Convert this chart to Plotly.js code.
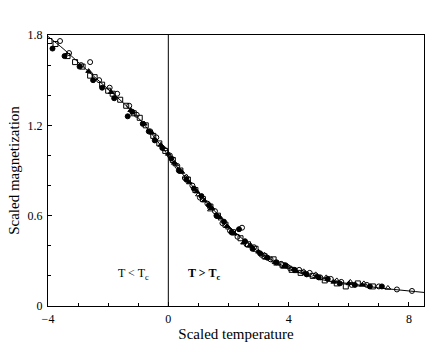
<!DOCTYPE html>
<html>
<head>
<meta charset="utf-8">
<script src="https://cdn.plot.ly/plotly-3.0.1.min.js"></script>
<style>
  body { margin: 0; background: #fff; }
  #graph { width: 436px; height: 352px; }
</style>
</head>
<body>
<div id="graph"></div>
<script>
// scaling curve
var curveX = [-4, -3.5, -3, -2.5, -2, -1.5, -1, -0.5, 0, 0.5, 1, 1.5, 2, 2.5, 3, 3.5, 4, 4.5, 5, 5.5, 6, 6.5, 7, 7.5, 8, 8.5];
var curveY = [1.79, 1.71, 1.62, 1.53, 1.44, 1.35, 1.25, 1.13, 1.00, 0.87, 0.75, 0.64, 0.53, 0.44, 0.36, 0.30, 0.25, 0.21, 0.18, 0.16, 0.15, 0.135, 0.12, 0.11, 0.10, 0.09];

// open squares
var sqX = [-3.95, -3.75, -3.35, -3.1, -2.85, -2.6, -2.45, -2.2, -2.0, -1.85, -1.6, -1.4, -1.15, -0.95, -0.75, -0.5, -0.3, -0.1, 0.15, 0.4, 0.65, 0.9, 1.15, 1.4, 1.65, 1.9, 2.15, 2.4, 2.65, 2.9, 3.2, 3.5, 3.8, 4.1, 4.4, 4.8, 5.2, 5.6, 5.9, 6.3, 6.8];
var sqY = [1.76, 1.74, 1.66, 1.62, 1.59, 1.53, 1.52, 1.47, 1.43, 1.41, 1.37, 1.33, 1.28, 1.25, 1.20, 1.13, 1.08, 1.03, 0.97, 0.90, 0.84, 0.77, 0.71, 0.66, 0.60, 0.54, 0.49, 0.45, 0.41, 0.38, 0.33, 0.31, 0.27, 0.24, 0.22, 0.20, 0.17, 0.15, 0.13, 0.15, 0.13];

// open circles
var ocX = [-3.6, -3.3, -2.9, -2.6, -2.3, -1.95, -1.7, -1.3, -1.05, -0.6, -0.4, 0.05, 0.3, 0.55, 0.8, 1.05, 1.3, 1.55, 1.8, 2.05, 2.3, 2.45, 2.6, 2.85, 3.1, 3.4, 3.75, 4.05, 4.35, 4.7, 5.05, 5.4, 5.75, 6.1, 6.6, 7.0, 7.6, 8.1];
var ocY = [1.76, 1.68, 1.60, 1.62, 1.50, 1.45, 1.41, 1.33, 1.27, 1.16, 1.12, 1.00, 0.93, 0.85, 0.80, 0.72, 0.68, 0.63, 0.55, 0.50, 0.46, 0.52, 0.41, 0.39, 0.34, 0.31, 0.28, 0.25, 0.24, 0.22, 0.19, 0.18, 0.16, 0.14, 0.14, 0.13, 0.11, 0.10];

// filled circles
var fcX = [-3.85, -3.45, -2.95, -2.5, -2.2, -1.8, -1.35, -1.2, -0.85, -0.65, -0.45, -0.2, 0.1, 0.35, 0.6, 0.85, 1.1, 1.35, 1.6, 1.85, 2.1, 2.35, 2.55, 2.8, 3.05, 3.3, 3.6, 3.9, 4.2, 4.6, 5.0, 5.3, 5.7, 6.2, 6.7, 7.1];
var fcY = [1.71, 1.66, 1.59, 1.50, 1.45, 1.38, 1.26, 1.29, 1.21, 1.16, 1.10, 1.05, 0.98, 0.90, 0.84, 0.78, 0.73, 0.67, 0.60, 0.56, 0.49, 0.51, 0.43, 0.38, 0.35, 0.32, 0.29, 0.27, 0.24, 0.21, 0.19, 0.18, 0.15, 0.14, 0.13, 0.13];

// filled triangles
var ftX = [-2.65, -1.9, -1.25, -0.8, -0.55, -0.25, 0.0, 0.2, 0.45, 0.7, 0.95, 1.2, 1.45, 1.7, 1.95, 2.2, 2.5, 2.75, 3.0, 3.25, 3.55, 3.85, 4.25, 4.55, 4.95, 5.5, 6.0, 6.45];
var ftY = [1.56, 1.42, 1.30, 1.21, 1.15, 1.07, 1.01, 0.95, 0.89, 0.82, 0.76, 0.70, 0.65, 0.59, 0.53, 0.48, 0.42, 0.40, 0.36, 0.32, 0.29, 0.26, 0.23, 0.22, 0.20, 0.16, 0.15, 0.14];

// open triangles
var otX = [-0.1, 0.25, 0.6, 1.0, 1.4, 1.75, 2.0, 2.7, 3.2, 3.6, 4.0, 4.5, 4.9, 5.25, 5.6, 6.05, 6.5, 7.3];
var otY = [1.04, 0.94, 0.86, 0.74, 0.64, 0.58, 0.52, 0.40, 0.34, 0.28, 0.26, 0.23, 0.21, 0.19, 0.17, 0.16, 0.15, 0.12];

function pts(x, y, sym) {
    return {
        type: 'scatter',
        mode: 'markers',
        x: x,
        y: y,
        marker: {symbol: sym, size: 5, color: 'black', line: {color: 'black', width: 1}},
        hoverinfo: 'none'
    };
}

var data = [
    {
        type: 'scatter',
        mode: 'lines',
        x: curveX,
        y: curveY,
        line: {color: 'black', width: 1, shape: 'spline'},
        hoverinfo: 'none'
    },
    pts(sqX, sqY, 'square-open'),
    pts(ocX, ocY, 'circle-open'),
    pts(otX, otY, 'triangle-up-open'),
    pts(fcX, fcY, 'circle'),
    pts(ftX, ftY, 'triangle-up')
];

var layout = {
    width: 436,
    height: 352,
    showlegend: false,
    paper_bgcolor: 'white',
    plot_bgcolor: 'white',
    margin: {l: 48, r: 12, t: 35, b: 46},
    font: {family: 'Liberation Serif, serif', color: 'black', size: 12},
    xaxis: {
        range: [-4, 8.5],
        tickvals: [-4, 0, 4, 8],
        ticks: 'inside',
        ticklen: 4,
        tickcolor: 'black',
        tickfont: {size: 12},
        ticklabelstandoff: 2,
        minor: {dtick: 1, tick0: 0, ticks: 'inside', ticklen: 3, tickcolor: 'black'},
        showgrid: false,
        zeroline: false,
        showline: true,
        linecolor: 'black',
        linewidth: 1,
        mirror: true,
        title: {text: 'Scaled temperature', font: {size: 15}, standoff: 2}
    },
    yaxis: {
        range: [0, 1.8],
        tickvals: [0, 0.6, 1.2, 1.8],
        ticktext: ['0', '0.6', '1.2', '1.8'],
        ticks: 'inside',
        ticklen: 4,
        tickcolor: 'black',
        tickfont: {size: 12},
        ticklabelstandoff: 2,
        minor: {dtick: 0.2, tick0: 0, ticks: 'inside', ticklen: 3, tickcolor: 'black'},
        showgrid: false,
        zeroline: false,
        showline: true,
        linecolor: 'black',
        linewidth: 1,
        mirror: true,
        title: {text: 'Scaled magnetization', font: {size: 15}, standoff: 4}
    },
    shapes: [
        {type: 'line', xref: 'x', yref: 'y', x0: 0, x1: 0, y0: 0, y1: 1.8, line: {color: 'black', width: 1}}
    ],
    annotations: [
        {x: -1.15, y: 0.21, xref: 'x', yref: 'y', text: 'T &lt; T<sub>c</sub>', showarrow: false, font: {size: 12}},
        {x: 1.2, y: 0.21, xref: 'x', yref: 'y', text: '<b>T &gt; T<sub>c</sub></b>', showarrow: false, font: {size: 12}}
    ]
};

Plotly.newPlot('graph', data, layout, {displayModeBar: false, staticPlot: true});
</script>
</body>
</html>
